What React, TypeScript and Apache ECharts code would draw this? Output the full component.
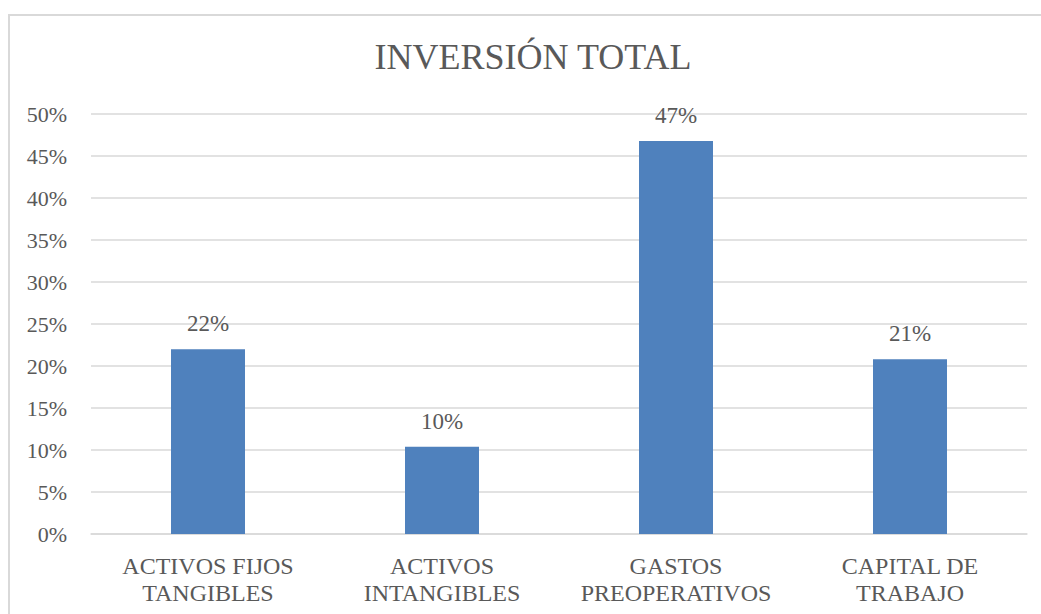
import React, { useEffect, useRef } from "react";
import * as echarts from "echarts";

// Investment breakdown by component (share of the total)
const categories: string[] = [
  "ACTIVOS FIJOS\nTANGIBLES",
  "ACTIVOS\nINTANGIBLES",
  "GASTOS\nPREOPERATIVOS",
  "CAPITAL DE\nTRABAJO",
];
const shares: number[] = [0.22, 0.104, 0.468, 0.208];
const chartTitle = "INVERSIÓN TOTAL";

const FONT = '"Liberation Serif", "Times New Roman", serif';
const TEXT = "#595959";
const GRID = "#D9D9D9";
const BAR = "#4F81BD";

const pct = (v: number) => `${Math.round(v * 100)}%`;

export default function App() {
  const ref = useRef<HTMLDivElement>(null);

  useEffect(() => {
    document.body.style.margin = "0";
    if (!ref.current) return;
    const chart = echarts.init(ref.current, null, { renderer: "svg" });
    chart.setOption({
      animation: false,
      backgroundColor: "#ffffff",
      textStyle: { fontFamily: FONT },
      title: {
        text: chartTitle,
        left: 528,
        top: 34,
        textAlign: "center",
        textStyle: { fontFamily: FONT, fontSize: 36, fontWeight: "normal", color: TEXT },
      },
      graphic: [
        { type: "line", shape: { x1: 8, y1: 15, x2: 1041, y2: 15 }, style: { stroke: GRID, lineWidth: 2 }, silent: true },
        { type: "line", shape: { x1: 9, y1: 15, x2: 9, y2: 614 }, style: { stroke: GRID, lineWidth: 2 }, silent: true },
      ],
      grid: { left: 91, right: 14, top: 114, bottom: 80, containLabel: false },
      xAxis: {
        type: "category",
        data: categories,
        axisLine: { show: true, lineStyle: { color: GRID, width: 1.5 } },
        axisTick: { show: false },
        axisLabel: {
          color: TEXT,
          fontFamily: FONT,
          fontSize: 24,
          lineHeight: 27,
          margin: 18,
          interval: 0,
        },
      },
      yAxis: {
        type: "value",
        min: 0,
        max: 0.5,
        interval: 0.05,
        axisLine: { show: false },
        axisTick: { show: false },
        splitLine: { show: true, lineStyle: { color: GRID, width: 1.5 } },
        axisLabel: {
          color: TEXT,
          fontFamily: FONT,
          fontSize: 22,
          margin: 24,
          formatter: (v: number) => pct(v),
        },
      },
      series: [
        {
          type: "bar",
          data: shares,
          barWidth: 74,
          itemStyle: { color: BAR },
          label: {
            show: true,
            position: "top",
            distance: 14,
            color: TEXT,
            fontFamily: FONT,
            fontSize: 23,
            formatter: (p: any) => pct(p.value),
          },
        },
      ],
    });
    return () => chart.dispose();
  }, []);

  return <div ref={ref} style={{ width: 1041, height: 614 }} />;
}
